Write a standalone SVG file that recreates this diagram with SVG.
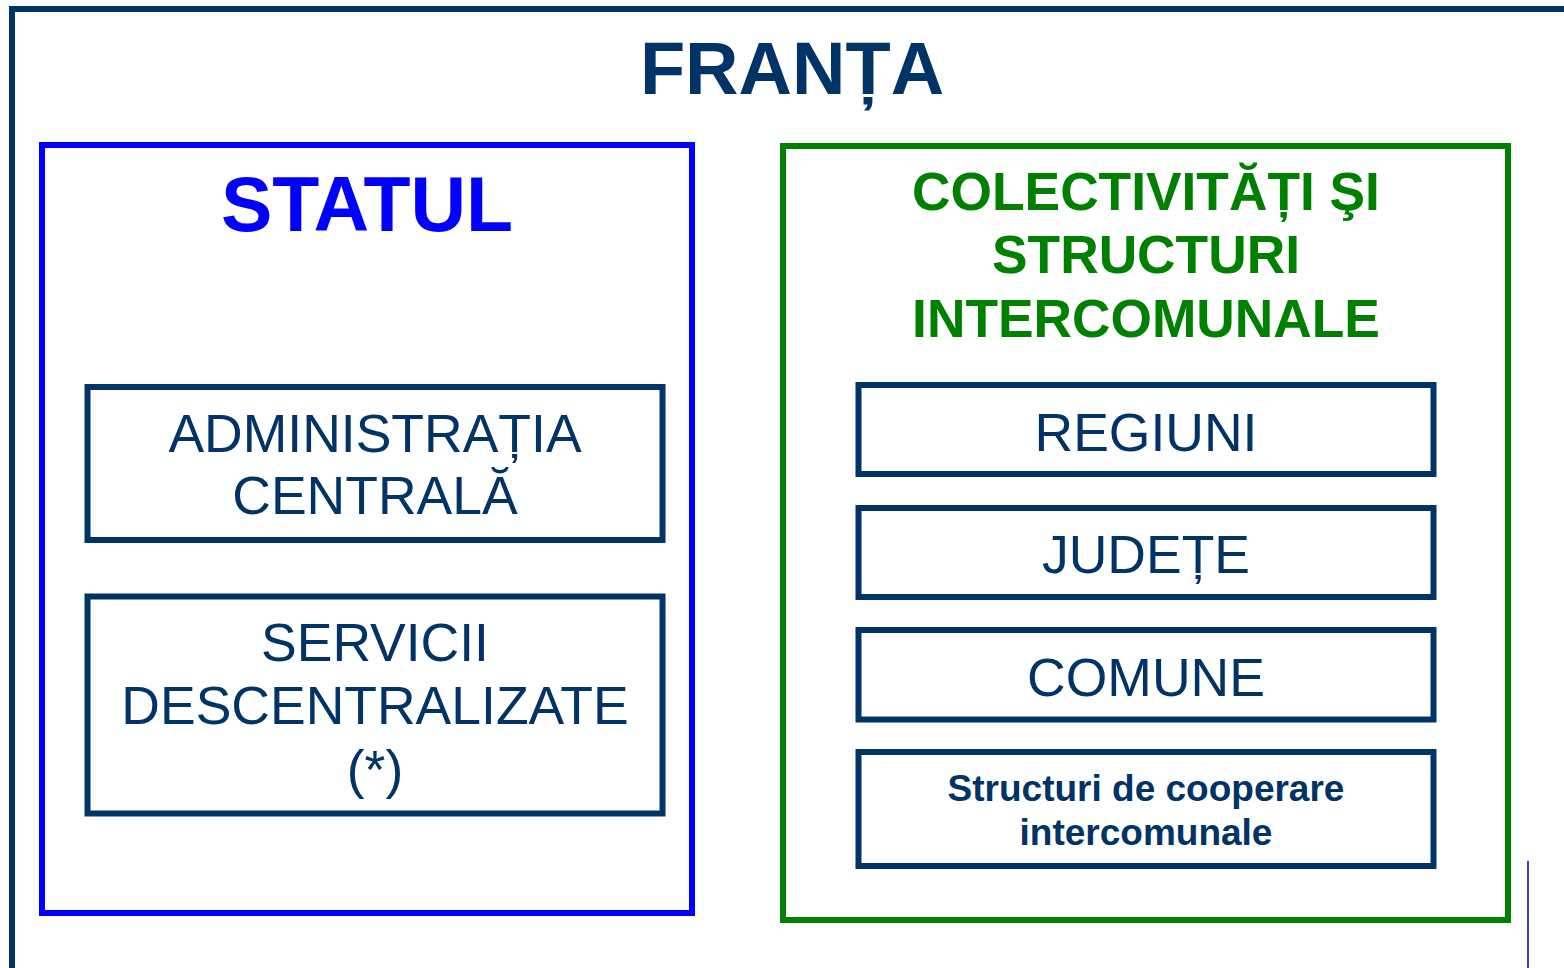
<svg xmlns="http://www.w3.org/2000/svg" width="1564" height="968" viewBox="0 0 1564 968">
<style>
.frame{fill:none;stroke:#003366;stroke-width:6}
.box{fill:#ffffff;stroke:#003366;stroke-width:6}
.t{font-family:"Liberation Sans",Arial,sans-serif;text-anchor:middle;fill:#003366}
.reg{font-size:53.5px}
.b{font-weight:bold}
</style>
<rect width="1564" height="968" fill="#ffffff"/>
<g id="frame">
<rect class="frame" x="12" y="9" width="1600" height="1000"/>
<text class="t b" x="792" y="94" font-size="74">FRANȚA</text>
</g>
<line x1="1528" y1="861" x2="1528" y2="968" stroke="#4040b0" stroke-width="2"/>
<g id="statul">
<rect x="42" y="145" width="650" height="768" fill="none" stroke="#0000ff" stroke-width="6"/>
<text class="t b" x="367" y="231" font-size="77" style="fill:#0000ff">STATUL</text>
</g>
<g id="colectivitati">
<rect x="783" y="146" width="725" height="774" fill="none" stroke="#008000" stroke-width="6"/>
<text class="t b" font-size="53.3" style="fill:#008000"><tspan x="1146" y="210">COLECTIVITĂȚI ŞI</tspan><tspan x="1146" y="273">STRUCTURI</tspan><tspan x="1146" y="337">INTERCOMUNALE</tspan></text>
</g>
<g id="admin-centrala">
<rect class="box" x="87.5" y="387" width="575" height="153"/>
<text class="t reg"><tspan x="375" y="452">ADMINISTRAȚIA</tspan><tspan x="375" y="514">CENTRALĂ</tspan></text>
</g>
<g id="servicii">
<rect class="box" x="87.5" y="596.5" width="575" height="217"/>
<text class="t reg"><tspan x="375" y="661">SERVICII</tspan><tspan x="375" y="724">DESCENTRALIZATE</tspan><tspan x="375" y="788">(*)</tspan></text>
</g>
<g id="regiuni">
<rect class="box" x="858.5" y="385" width="575" height="89"/>
<text class="t reg" x="1146" y="451">REGIUNI</text>
</g>
<g id="judete">
<rect class="box" x="858.5" y="508" width="575" height="89"/>
<text class="t reg" x="1146" y="573">JUDEȚE</text>
</g>
<g id="comune">
<rect class="box" x="858.5" y="630" width="575" height="89.5"/>
<text class="t reg" x="1146" y="696">COMUNE</text>
</g>
<g id="structuri">
<rect class="box" x="858.5" y="752" width="575" height="114"/>
<text class="t b" font-size="37"><tspan x="1146" y="801">Structuri de cooperare</tspan><tspan x="1146" y="845">intercomunale</tspan></text>
</g>
<g id="connectors"></g>
</svg>
